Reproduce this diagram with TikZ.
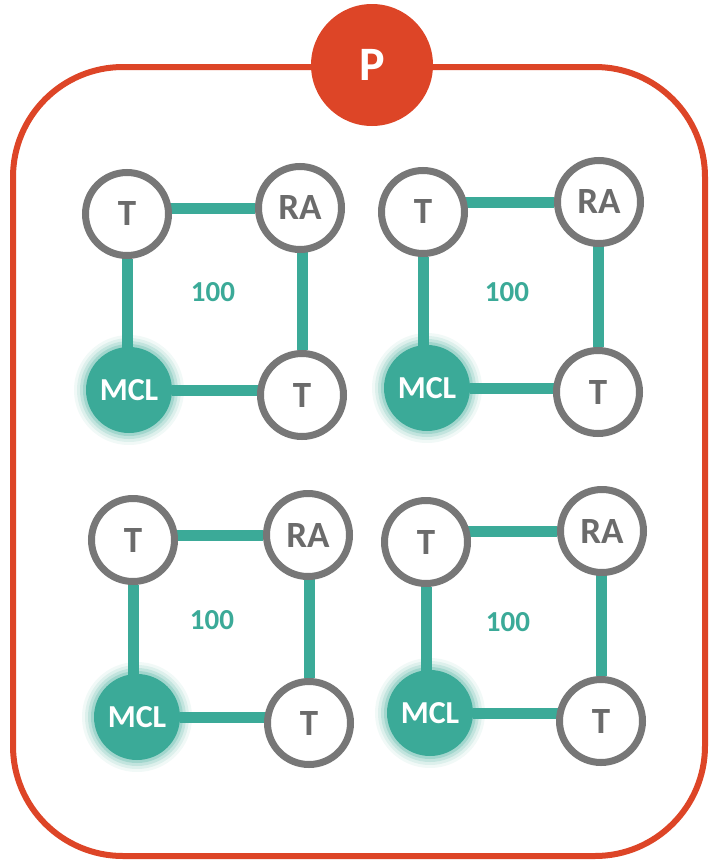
\documentclass[tikz,border=0pt]{standalone}
\usepackage{fontspec}
\setmainfont{Carlito}
\usetikzlibrary{backgrounds}
\definecolor{pred}{HTML}{DD4527}
\definecolor{tealc}{HTML}{3BAA98}
\definecolor{ringgray}{HTML}{777777}
\definecolor{txtgray}{HTML}{6B6B6B}
\tikzset{
 ring/.style={circle, draw=ringgray, line width=7pt, fill=white, minimum size=83pt, inner sep=0pt, text=txtgray, font=\bfseries\fontsize{37}{37}\selectfont},
 mcl/.style={circle, fill=tealc, minimum size=86pt, inner sep=0pt, text=white, font=\bfseries\fontsize{32}{32}\selectfont},
 link/.style={draw=tealc, line width=11pt},
 val/.style={text=tealc, font=\bfseries\fontsize{29}{29}\selectfont},
 pnode/.style={circle, fill=pred, minimum size=122pt, inner sep=0pt, text=white, font=\bfseries\fontsize{48}{48}\selectfont},
 frame/.style={draw=pred, line width=6pt, rounded corners=110pt},
}
\begin{document}
\begin{tikzpicture}[x=1pt,y=-1pt]
\begin{scope}[on background layer]
\fill[white] (0,0) rectangle (715,862);
\end{scope}
\useasboundingbox (0,0) rectangle (715,862);
\path[frame] (13,67) rectangle (705,856);
\node[pnode] (P) at (372,65) {P};
\foreach \g/\ax/\ay/\bx/\by/\cx/\cy/\dx/\dy/\lx/\ly in {
  1/127/214/300/208/129/390/302/395/213/292,
  2/423/212/599/202/427/388/598/392/507/292,
  3/133/540/308/535/137/717/309/723/212/620,
  4/426/542/602/531/430/713/601/721/508/622}{
  \node[ring] (T\g) at (\ax,\ay) {T};
  \node[ring] (R\g) at (\bx,\by) {RA};
  \node[mcl] (M\g) at (\cx,\cy) {MCL};
  \node[ring] (B\g) at (\dx,\dy) {T};
  \node[val] (V\g) at (\lx,\ly) {100};
  \begin{scope}[on background layer]
    \foreach \r/\o in {55/0.07,52/0.11,49/0.16,46/0.24}
      \fill[tealc, opacity=\o] (M\g) circle (\r);
    \draw[link] (R\g -| T\g) -- (R\g);
    \draw[link] (T\g) -- (T\g |- M\g);
    \draw[link] (B\g |- R\g) -- (B\g);
    \draw[link] (M\g) -- (M\g -| B\g);
  \end{scope}
}
\end{tikzpicture}
\end{document}
